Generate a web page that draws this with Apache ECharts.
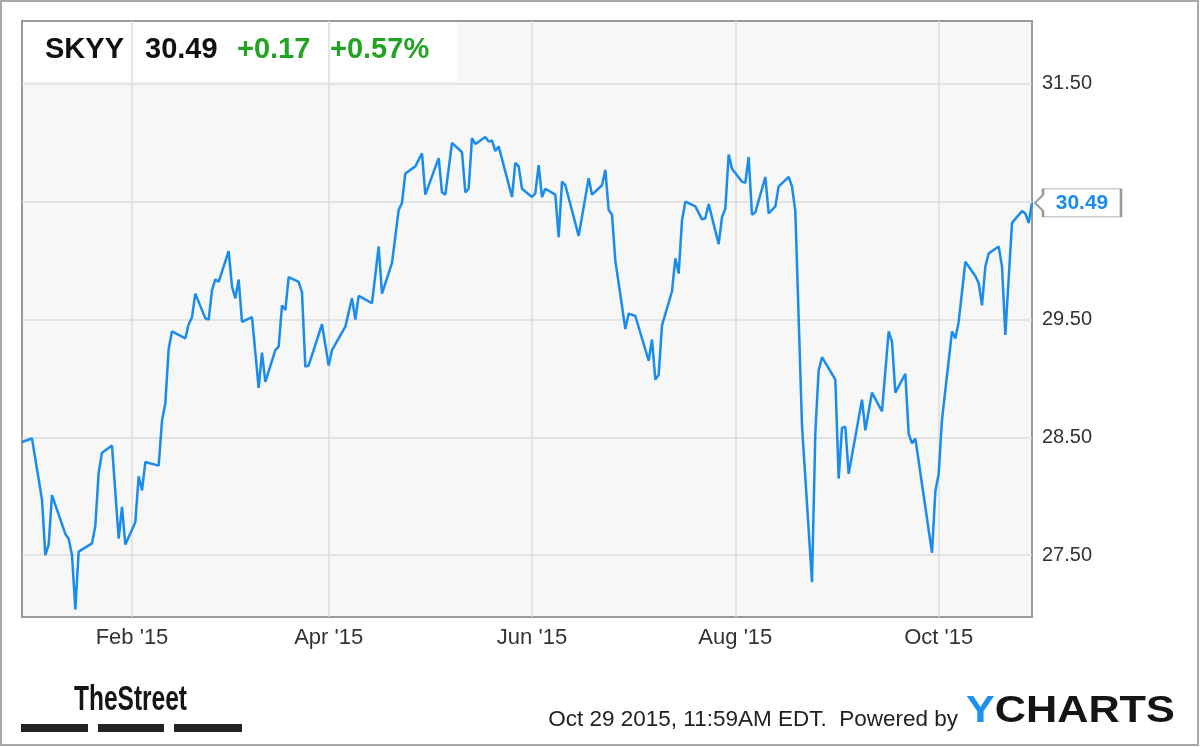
<!DOCTYPE html>
<html>
<head>
<meta charset="utf-8">
<script src="https://cdn.jsdelivr.net/npm/echarts@6.0.0/dist/echarts.min.js"></script>
<style>
html,body{margin:0;padding:0;background:#fff;}
#chart{width:1200px;height:747px;}
</style>
</head>
<body>
<div id="chart"></div>
<script>
// ---- data ----
const ticker = 'SKYY';
const lastPriceText = '30.49';
const changeText = '+0.17';
const changePctText = '+0.57%';
const footerText = 'Oct 29 2015, 11:59AM EDT.  Powered by';

const dates = [
'2014-12-30','2015-01-02','2015-01-05','2015-01-06','2015-01-07','2015-01-08','2015-01-12','2015-01-13','2015-01-14','2015-01-15',
'2015-01-16','2015-01-20','2015-01-21','2015-01-22','2015-01-23','2015-01-26','2015-01-28','2015-01-29','2015-01-30','2015-02-02',
'2015-02-03','2015-02-04','2015-02-05','2015-02-09','2015-02-10','2015-02-11','2015-02-12','2015-02-13','2015-02-17','2015-02-18',
'2015-02-19','2015-02-20','2015-02-23','2015-02-24','2015-02-25','2015-02-26','2015-02-27','2015-03-02','2015-03-03','2015-03-04',
'2015-03-05','2015-03-06','2015-03-09','2015-03-11','2015-03-12','2015-03-13','2015-03-16','2015-03-17','2015-03-18','2015-03-19',
'2015-03-20','2015-03-23','2015-03-24','2015-03-25','2015-03-26','2015-03-30','2015-04-01','2015-04-02','2015-04-06','2015-04-08',
'2015-04-09','2015-04-10','2015-04-14','2015-04-16','2015-04-17','2015-04-20','2015-04-22','2015-04-23','2015-04-24','2015-04-27',
'2015-04-29','2015-04-30','2015-05-04','2015-05-05','2015-05-06','2015-05-08','2015-05-11','2015-05-12','2015-05-13','2015-05-14',
'2015-05-15','2015-05-18','2015-05-19','2015-05-20','2015-05-21','2015-05-22','2015-05-26','2015-05-27','2015-05-28','2015-05-29',
'2015-06-01','2015-06-02','2015-06-03','2015-06-04','2015-06-05','2015-06-08','2015-06-09','2015-06-10','2015-06-11','2015-06-15',
'2015-06-18','2015-06-19','2015-06-22','2015-06-23','2015-06-24','2015-06-25','2015-06-26','2015-06-29','2015-06-30','2015-07-02',
'2015-07-06','2015-07-07','2015-07-08','2015-07-09','2015-07-10','2015-07-13','2015-07-14','2015-07-15','2015-07-16','2015-07-17',
'2015-07-20','2015-07-22','2015-07-23','2015-07-24','2015-07-27','2015-07-28','2015-07-29','2015-07-30','2015-07-31','2015-08-03',
'2015-08-04','2015-08-05','2015-08-06','2015-08-07','2015-08-10','2015-08-11','2015-08-13','2015-08-14','2015-08-17','2015-08-18',
'2015-08-19','2015-08-21','2015-08-24','2015-08-25','2015-08-26','2015-08-27','2015-08-31','2015-09-01','2015-09-02','2015-09-03',
'2015-09-04','2015-09-08','2015-09-09','2015-09-11','2015-09-14','2015-09-16','2015-09-17','2015-09-18','2015-09-21','2015-09-22',
'2015-09-23','2015-09-24','2015-09-29','2015-09-30','2015-10-01','2015-10-02','2015-10-05','2015-10-06','2015-10-07','2015-10-09',
'2015-10-12','2015-10-13','2015-10-14','2015-10-15','2015-10-16','2015-10-19','2015-10-20','2015-10-21','2015-10-23','2015-10-26',
'2015-10-27','2015-10-28','2015-10-29'
];
const prices = [
28.46,28.49,27.97,27.50,27.59,28.01,27.68,27.64,27.50,27.04,
27.53,27.60,27.75,28.20,28.37,28.43,27.64,27.91,27.59,27.78,
28.17,28.05,28.29,28.26,28.64,28.79,29.25,29.40,29.34,29.46,
29.52,29.72,29.51,29.50,29.75,29.84,29.82,30.08,29.78,29.68,
29.84,29.48,29.52,28.92,29.22,28.97,29.24,29.27,29.62,29.58,
29.86,29.82,29.73,29.10,29.11,29.46,29.11,29.24,29.44,29.68,
29.50,29.70,29.64,30.12,29.72,29.98,30.43,30.49,30.74,30.80,
30.91,30.56,30.87,30.58,30.56,31.00,30.92,30.58,30.61,31.04,
30.99,31.05,31.01,31.02,30.93,30.97,30.54,30.83,30.80,30.61,
30.54,30.57,30.81,30.54,30.61,30.56,30.20,30.67,30.64,30.21,
30.70,30.56,30.64,30.77,30.43,30.39,30.00,29.42,29.55,29.53,
29.15,29.33,28.99,29.03,29.45,29.74,30.02,29.89,30.34,30.50,
30.46,30.35,30.36,30.48,30.14,30.37,30.44,30.90,30.78,30.67,
30.66,30.88,30.39,30.41,30.71,30.40,30.46,30.63,30.71,30.63,
30.42,28.60,27.27,28.54,29.07,29.18,28.99,28.15,28.58,28.59,
28.19,28.82,28.56,28.88,28.72,29.40,29.31,28.88,29.04,28.53,
28.45,28.49,27.52,28.04,28.19,28.65,29.40,29.34,29.48,29.99,
29.87,29.81,29.62,29.95,30.06,30.12,29.95,29.37,30.32,30.42,
30.40,30.32,30.49
];
const yTicks = [27.5, 28.5, 29.5, 30.5, 31.5];
const yTickLabelShown = [true, true, true, false, true];
const xTicks = ['2015-02-01','2015-04-01','2015-06-01','2015-08-01','2015-10-01'];
const xTickLabels = ["Feb '15","Apr '15","Jun '15","Aug '15","Oct '15"];
const xMin = '2014-12-30';
const xMax = '2015-10-29';
const yMin = 26.975;
const yMax = 32.034;

// ---- chart ----
const FONT = '"Liberation Sans", Arial, sans-serif';
const lineColor = '#1a8ceb';
const gridColor = '#dcdcdc';
const green = '#22a322';

const seriesData = dates.map((d, i) => [d, prices[i]]);
const lastIdx = dates.length - 1;

const chart = echarts.init(document.getElementById('chart'), null, {renderer: 'canvas'});

const option = {
  animation: false,
  backgroundColor: '#ffffff',
  grid: {
    left: 22, right: 168, top: 21, bottom: 130,
    show: true, backgroundColor: '#f7f7f7', borderColor: '#999999', borderWidth: 2
  },
  xAxis: {
    type: 'time', min: xMin, max: xMax, show: false,
    splitLine: {show: false}
  },
  yAxis: {
    type: 'value', min: yMin, max: yMax, show: false,
    splitLine: {show: false}
  },
  graphic: [
    {type: 'rect', z: 1, shape: {x: 23, y: 22, width: 435, height: 59}, style: {fill: '#ffffff'}},
    {type: 'rect', z: 0, silent: true, shape: {x: 1, y: 1, width: 1197, height: 744}, style: {fill: 'none', stroke: '#a8a8a8', lineWidth: 2}},
    {type: 'text', z: 10, x: 45, y: 50, style: {text: ticker, font: 'bold 29px ' + FONT, fill: '#111', textAlign: 'left', textVerticalAlign: 'middle', verticalAlign: 'middle'}},
    {type: 'text', z: 10, x: 145, y: 50, style: {text: lastPriceText, font: 'bold 29px ' + FONT, fill: '#111', textAlign: 'left', textVerticalAlign: 'middle', verticalAlign: 'middle'}},
    {type: 'text', z: 10, x: 237, y: 50, style: {text: changeText, font: 'bold 29px ' + FONT, fill: green, textAlign: 'left', textVerticalAlign: 'middle', verticalAlign: 'middle'}},
    {type: 'text', z: 10, x: 330, y: 50, style: {text: changePctText, font: 'bold 29px ' + FONT, fill: green, textAlign: 'left', textVerticalAlign: 'middle', verticalAlign: 'middle'}},
    // TheStreet logo
    {type: 'text', z: 10, x: 74, y: 700, scaleX: 0.7, originX: 0, originY: 0, style: {text: 'TheStreet', font: 'bold 35px ' + FONT, fill: '#151515', textAlign: 'left', textVerticalAlign: 'middle', verticalAlign: 'middle'}},
    {type: 'rect', z: 10, shape: {x: 21, y: 724, width: 67, height: 8}, style: {fill: '#222'}},
    {type: 'rect', z: 10, shape: {x: 98, y: 724, width: 66, height: 8}, style: {fill: '#222'}},
    {type: 'rect', z: 10, shape: {x: 174, y: 724, width: 68, height: 8}, style: {fill: '#222'}},
    // footer
    {type: 'text', z: 10, x: 958, y: 720, style: {text: footerText, font: '22.5px ' + FONT, fill: '#222', textAlign: 'right', textVerticalAlign: 'middle', verticalAlign: 'middle'}},
    {type: 'text', z: 10, x: 966, y: 712, scaleX: 1.2, originX: 0, originY: 0, style: {
      text: '{y|Y}{c|CHARTS}', textAlign: 'left', textVerticalAlign: 'middle', verticalAlign: 'middle',
      rich: {y: {font: 'bold 36px ' + FONT, fill: '#1e90ee', color: '#1e90ee'}, c: {font: 'bold 36px ' + FONT, fill: '#151515', color: '#151515'}}
    }}
  ],
  series: [{
    type: 'line',
    z: 5,
    data: seriesData,
    showSymbol: false,
    symbol: 'none',
    lineStyle: {color: lineColor, width: 2.5},
    itemStyle: {color: lineColor},
    markLine: {
      silent: true,
      symbol: ['none', 'none'],
      animation: false,
      lineStyle: {color: gridColor, width: 1.5, type: 'solid'},
      label: {show: true, color: '#333', fontSize: 20, fontFamily: FONT},
      data: yTicks.map((v, i) => ({yAxis: v, label: {show: yTickLabelShown[i], position: 'end', distance: 10, formatter: v.toFixed(2)}}))
        .concat(xTicks.map((d, i) => ({xAxis: d, label: {position: 'start', distance: 10, fontSize: 22, formatter: xTickLabels[i]}})))
    },
    markPoint: {
      silent: true,
      animation: false,
      symbol: 'path://M0,14 L8,6 L8,0 L86,0 L86,28 L8,28 L8,22 Z',
      symbolSize: [86, 28],
      symbolKeepAspect: false,
      symbolOffset: [46, 0],
      itemStyle: {color: '#ffffff', borderColor: '#999999', borderWidth: 1.5},
      label: {show: true, position: 'inside', offset: [4, 0], color: '#1a8ceb', fontWeight: 'bold', fontSize: 21, fontFamily: FONT,
        formatter: p => Number(p.value).toFixed(2)},
      data: [{coord: [dates[lastIdx], prices[lastIdx]], value: prices[lastIdx]}]
    }
  }]
};
chart.setOption(option);
</script>
</body>
</html>
